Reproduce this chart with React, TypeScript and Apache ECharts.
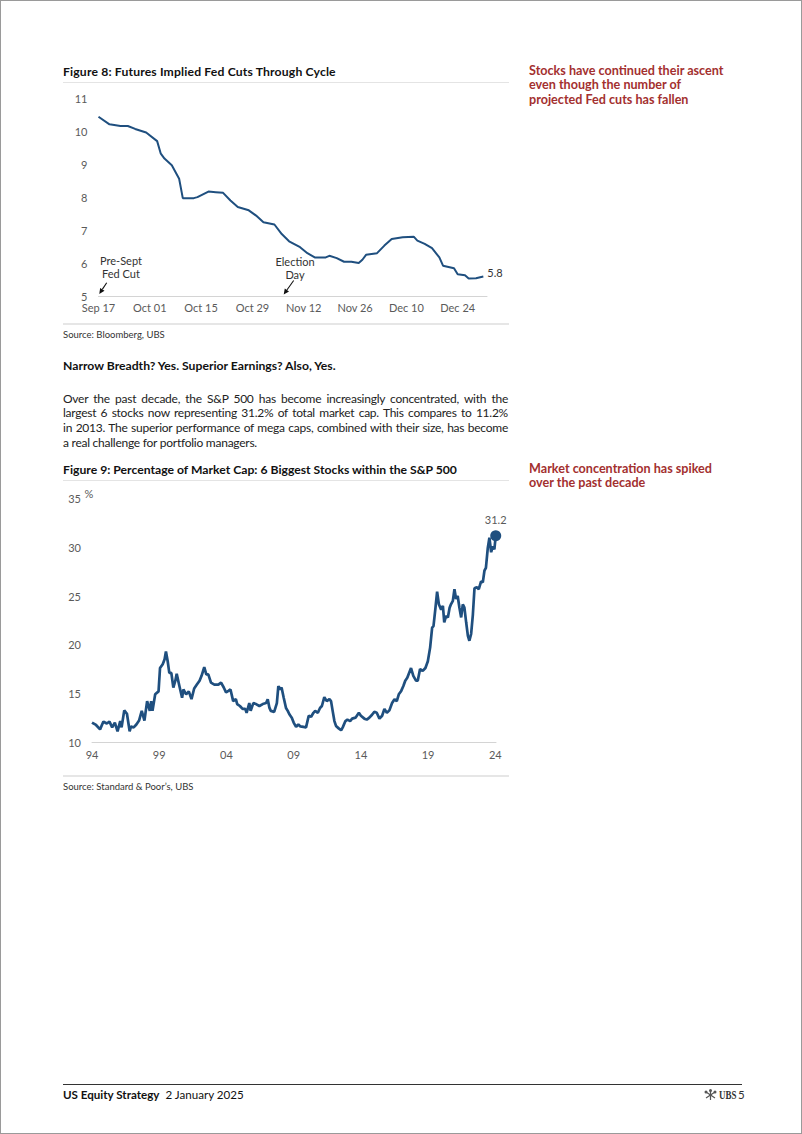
import React, { useEffect, useRef } from "react";
import * as echarts from "echarts";

const FONT = "Lato, 'Noto Sans', sans-serif";
const BLUE = "#1f4f7f";
const RED = "#a3302f";
const AXIS_TEXT = "#5a5a5a";

// ---------- Figure 8 data ----------
const fedStart = "2024-09-17";
const fedDates = [
  "2024-09-17", "2024-09-20", "2024-09-23", "2024-09-25", "2024-09-27", "2024-09-30",
  "2024-10-03", "2024-10-04", "2024-10-05", "2024-10-07", "2024-10-09", "2024-10-10",
  "2024-10-13", "2024-10-14", "2024-10-17", "2024-10-19", "2024-10-21", "2024-10-23",
  "2024-10-25", "2024-10-28", "2024-10-30", "2024-11-01", "2024-11-04", "2024-11-06",
  "2024-11-08", "2024-11-11", "2024-11-13", "2024-11-15", "2024-11-18", "2024-11-19",
  "2024-11-21", "2024-11-23", "2024-11-25", "2024-11-27", "2024-11-28", "2024-11-29",
  "2024-12-02", "2024-12-04", "2024-12-06", "2024-12-09", "2024-12-12", "2024-12-13",
  "2024-12-15", "2024-12-17", "2024-12-19", "2024-12-20", "2024-12-23", "2024-12-24",
  "2024-12-26", "2024-12-27", "2024-12-29", "2024-12-31",
];
const fedCuts = [
  10.44, 10.21, 10.16, 10.16, 10.07, 9.96,
  9.7, 9.32, 9.17, 8.97, 8.56, 7.97,
  7.97, 8.0, 8.17, 8.15, 8.13, 7.9,
  7.7, 7.6, 7.44, 7.24, 7.17, 6.88,
  6.66, 6.48, 6.3, 6.17, 6.17, 6.22,
  6.15, 6.04, 6.04, 6.0, 6.1, 6.25,
  6.3, 6.53, 6.73, 6.78, 6.8, 6.68,
  6.58, 6.45, 6.17, 5.92, 5.84, 5.66,
  5.63, 5.53, 5.54, 5.59,
];
const fedEndLabel = "5.8";
const fedTickLabels = ["Sep 17", "Oct 01", "Oct 15", "Oct 29", "Nov 12", "Nov 26", "Dec 10", "Dec 24"];
const fedAxisEnd = "2025-01-01";

// ---------- Figure 9 data ----------
const mcYears = [
  1994.0, 1994.3, 1994.6, 1994.85, 1995.1, 1995.3, 1995.5, 1995.7, 1995.9, 1996.1,
  1996.2, 1996.4, 1996.6, 1996.8, 1996.9, 1997.1, 1997.3, 1997.5, 1997.7, 1997.9,
  1998.1, 1998.3, 1998.4, 1998.5, 1998.7, 1998.95, 1999.06, 1999.26, 1999.4, 1999.5,
  1999.63, 1999.75, 1999.9, 2000.05, 2000.2, 2000.3, 2000.5, 2000.7, 2000.8, 2001.0,
  2001.2, 2001.4, 2001.6, 2001.8, 2002.0, 2002.15, 2002.35, 2002.5, 2002.65, 2002.85,
  2003.1, 2003.4, 2003.6, 2003.8, 2003.97, 2004.15, 2004.3, 2004.5, 2004.7, 2004.8,
  2005.0, 2005.2, 2005.4, 2005.5, 2005.7, 2005.8, 2006.0, 2006.2, 2006.45, 2006.7,
  2006.95, 2007.07, 2007.2, 2007.3, 2007.55, 2007.75, 2007.86, 2008.0, 2008.1, 2008.26,
  2008.43, 2008.56, 2008.68, 2008.86, 2009.0, 2009.18, 2009.35, 2009.5, 2009.72, 2009.92,
  2010.12, 2010.3, 2010.47, 2010.6, 2010.8, 2010.96, 2011.1, 2011.28, 2011.46, 2011.66,
  2011.78, 2011.9, 2012.03, 2012.15, 2012.35, 2012.53, 2012.65, 2012.85, 2013.0, 2013.2,
  2013.35, 2013.6, 2013.85, 2014.0, 2014.26, 2014.44, 2014.63, 2014.83, 2015.0, 2015.18,
  2015.38, 2015.58, 2015.75, 2015.93, 2016.12, 2016.32, 2016.5, 2016.67, 2016.82, 2017.0,
  2017.16, 2017.3, 2017.45, 2017.73, 2017.9, 2018.1, 2018.23, 2018.4, 2018.6, 2018.8,
  2018.98, 2019.15, 2019.3, 2019.4, 2019.55, 2019.67, 2019.8, 2019.97, 2020.1, 2020.2,
  2020.34, 2020.47, 2020.6, 2020.7, 2020.84, 2020.96, 2021.08, 2021.2, 2021.33, 2021.46,
  2021.58, 2021.7, 2021.83, 2021.96, 2022.07, 2022.2, 2022.33, 2022.45, 2022.62, 2022.77,
  2022.94, 2023.07, 2023.19, 2023.3, 2023.44, 2023.56, 2023.69, 2023.8, 2023.93, 2024.03,
];
const mcShare = [
  12.0, 11.75, 11.3, 12.1, 11.9, 12.1, 11.5, 12.0, 11.1, 12.15,
  11.5, 13.25, 12.9, 11.1, 11.6, 11.5, 11.8, 12.2, 13.2, 12.2,
  14.2, 13.2, 14.2, 13.2, 14.9, 15.2, 17.6, 18.0, 18.5, 19.3,
  18.3, 17.1, 17.1, 15.6, 16.3, 17.0, 15.75, 14.55, 15.4, 14.9,
  15.2, 14.4, 15.5, 15.9, 16.3, 16.8, 17.7, 16.95, 16.95, 16.1,
  15.9, 15.9, 16.1, 15.6, 15.1, 15.25, 15.4, 14.2, 14.4, 13.9,
  13.7, 13.4, 13.4, 13.0, 14.0, 13.2, 14.0, 13.9, 13.7, 13.9,
  14.0, 14.4, 13.5, 13.2, 13.1, 14.0, 15.75, 15.4, 15.6, 14.55,
  13.5, 13.2, 12.85, 12.5, 12.0, 11.55, 11.8, 11.6, 11.55, 11.5,
  12.7, 12.6, 13.0, 13.2, 13.0, 13.5, 13.7, 14.6, 14.2, 14.4,
  14.2, 13.2, 12.15, 11.65, 11.4, 11.2, 11.5, 12.15, 12.3, 12.15,
  12.4, 12.5, 13.0, 12.7, 12.4, 12.3, 12.5, 12.8, 13.1, 13.0,
  12.4, 12.7, 13.4, 13.0, 13.25, 14.0, 14.4, 14.2, 14.9, 15.25,
  15.75, 16.3, 16.6, 17.6, 16.8, 16.3, 16.3, 17.5, 17.3, 17.6,
  18.3, 19.7, 21.75, 21.9, 23.8, 25.45, 24.15, 23.6, 24.0, 22.3,
  22.95, 22.8, 23.8, 24.15, 24.5, 25.7, 24.7, 25.0, 23.8, 22.8,
  24.15, 23.8, 22.3, 20.9, 20.4, 21.1, 23.1, 25.8, 25.9, 25.7,
  26.5, 26.4, 27.6, 27.9, 29.95, 31.0, 29.5, 30.1, 29.8, 31.2,
];
const mcBaseYear = 1994;
const mcTickLabels = ["94", "99", "04", "09", "14", "19", "24"];

const DAY = 86400000;
const dayOffset = (d: string) => Math.round((Date.parse(d) - Date.parse(fedStart)) / DAY);

function arrow(x1: number, y1: number, x2: number, y2: number) {
  const dx = x2 - x1;
  const dy = y2 - y1;
  const len = Math.sqrt(dx * dx + dy * dy);
  const ux = dx / len;
  const uy = dy / len;
  const head = 5.5;
  const half = 2.6;
  const bx = x2 - ux * head;
  const by = y2 - uy * head;
  return [
    { type: "line", silent: true, shape: { x1, y1, x2: bx, y2: by }, style: { stroke: "#111", lineWidth: 1.1 } },
    {
      type: "polygon",
      silent: true,
      shape: { points: [[x2, y2], [bx - uy * half, by + ux * half], [bx + uy * half, by - ux * half]] },
      style: { fill: "#111" },
    },
  ];
}

function FedChart() {
  const ref = useRef<HTMLDivElement>(null);
  useEffect(() => {
    if (!ref.current) return;
    const chart = echarts.init(ref.current, undefined, { renderer: "svg" });
    const data = fedDates.map((d, i) => [dayOffset(d), fedCuts[i]]);
    const annoText = (text: string, x: number, y: number) => ({
      type: "text",
      silent: true,
      x,
      y,
      style: { text, align: "center", verticalAlign: "top", fontSize: 11, lineHeight: 13, fill: "#333", fontFamily: FONT },
    });
    chart.setOption({
      animation: false,
      grid: { left: 37.5, right: 24, top: 13.3, bottom: 24 },
      xAxis: {
        type: "value",
        min: 0,
        max: dayOffset(fedAxisEnd),
        interval: 14,
        axisLine: { show: true, lineStyle: { color: "#d4d4d4", width: 1 } },
        axisTick: { show: false },
        splitLine: { show: false },
        axisLabel: {
          color: AXIS_TEXT,
          fontSize: 11,
          fontFamily: FONT,
          margin: 6,
          showMaxLabel: false,
          formatter: (v: number) => (v % 14 === 0 ? fedTickLabels[v / 14] ?? "" : ""),
        },
      },
      yAxis: {
        type: "value",
        min: 5,
        max: 11,
        interval: 1,
        axisLine: { show: false },
        axisTick: { show: false },
        splitLine: { show: false },
        axisLabel: { color: AXIS_TEXT, fontSize: 11, fontFamily: FONT, margin: 11 },
      },
      series: [
        {
          type: "line",
          data,
          symbol: "none",
          showSymbol: false,
          lineStyle: { color: BLUE, width: 2 },
          endLabel: {
            show: true,
            formatter: () => fedEndLabel,
            color: "#333",
            fontSize: 11,
            fontFamily: FONT,
            distance: 4,
            offset: [0, -4],
          },
        },
      ],
      graphic: [
        annoText("Pre-Sept\nFed Cut", 60, 168.5),
        ...arrow(45.7, 197.7, 38.3, 209),
        annoText("Election\nDay", 234, 169.5),
        ...arrow(232.7, 195.5, 222.7, 209.5),
      ],
    });
    return () => chart.dispose();
  }, []);
  return <div ref={ref} style={{ position: "absolute", left: 60, top: 84, width: 450, height: 235 }} />;
}

function ConcentrationChart() {
  const ref = useRef<HTMLDivElement>(null);
  useEffect(() => {
    if (!ref.current) return;
    const chart = echarts.init(ref.current, undefined, { renderer: "svg" });
    const data = mcYears.map((y, i) => [y - mcBaseYear, mcShare[i]]);
    const last = data[data.length - 1];
    chart.setOption({
      animation: false,
      grid: { left: 31, right: 15, top: 12.7, bottom: 29 },
      xAxis: {
        type: "value",
        min: 0,
        max: 30.05,
        interval: 5,
        axisLine: { show: true, lineStyle: { color: "#d4d4d4", width: 1 } },
        axisTick: { show: false },
        splitLine: { show: false },
        axisLabel: {
          color: AXIS_TEXT,
          fontSize: 11,
          fontFamily: FONT,
          margin: 7,
          showMaxLabel: false,
          formatter: (v: number) => (Math.abs(v % 5) < 1e-9 ? mcTickLabels[Math.round(v / 5)] ?? "" : ""),
        },
      },
      yAxis: {
        type: "value",
        min: 10,
        max: 35,
        interval: 5,
        axisLine: { show: false },
        axisTick: { show: false },
        splitLine: { show: false },
        axisLabel: { color: AXIS_TEXT, fontSize: 11, fontFamily: FONT, margin: 11 },
      },
      series: [
        {
          type: "line",
          data,
          symbol: "none",
          showSymbol: false,
          lineStyle: { color: BLUE, width: 2.7 },
          markPoint: {
            symbol: "circle",
            symbolSize: 11,
            itemStyle: { color: BLUE },
            label: {
              show: true,
              position: "top",
              distance: 5,
              color: AXIS_TEXT,
              fontSize: 11,
              fontFamily: FONT,
              formatter: (p: any) => Number(p.value).toFixed(1),
            },
            data: [{ coord: last, value: last[1] }],
          },
        },
      ],
      graphic: [
        {
          type: "text",
          silent: true,
          x: 23.5,
          y: 2,
          style: { text: "%", fontSize: 11, fill: AXIS_TEXT, fontFamily: FONT },
        },
      ],
    });
    return () => chart.dispose();
  }, []);
  return <div ref={ref} style={{ position: "absolute", left: 60, top: 485, width: 450, height: 285 }} />;
}

const abs = (left: number, top: number, extra: React.CSSProperties = {}): React.CSSProperties => ({
  position: "absolute",
  left,
  top,
  whiteSpace: "nowrap",
  fontFamily: FONT,
  ...extra,
});

const rule = (top: number, color = "#e4e4e4", h = 1.5, left = 62, width = 446): React.CSSProperties => ({
  position: "absolute",
  left,
  top,
  width,
  height: h,
  background: color,
});

const paragraphLines = [
  "Over the past decade, the S&P 500 has become increasingly concentrated, with the",
  "largest 6 stocks now representing 31.2% of total market cap. This compares to 11.2%",
  "in 2013. The superior performance of mega caps, combined with their size, has become",
  "a real challenge for portfolio managers.",
];

function UbsLogo() {
  return (
    <svg width="13" height="12" viewBox="0 0 13 12" style={{ position: "absolute", left: 0, top: 1 }}>
      <g stroke="#555" strokeWidth="1.2" fill="none">
        <line x1="6.5" y1="1" x2="6.5" y2="11" />
        <line x1="2" y1="3" x2="11" y2="9" />
        <line x1="11" y1="3" x2="2" y2="9" />
      </g>
      <g fill="#555">
        <circle cx="6.5" cy="1.6" r="1.5" />
        <circle cx="2" cy="3" r="1.5" />
        <circle cx="11" cy="3" r="1.5" />
        <circle cx="6.5" cy="6" r="1.2" />
      </g>
    </svg>
  );
}

export default function App() {
  const titleStyle: React.CSSProperties = { fontSize: 12.2, fontWeight: 700, color: "#111", lineHeight: "15px" };
  const sideStyle: React.CSSProperties = { fontSize: 12.6, fontWeight: 700, color: RED, lineHeight: "14.5px" };
  const srcStyle: React.CSSProperties = { fontSize: 9.5, color: "#333", lineHeight: "12px" };
  return (
    <div
      style={{
        position: "absolute",
        left: 0,
        top: 0,
        width: 802,
        height: 1134,
        background: "#fff",
        border: "1px solid #9a9a9a",
        boxSizing: "border-box",
        overflow: "hidden",
        fontFamily: FONT,
      }}
    >
      <div style={abs(62, 62.5, { ...titleStyle, letterSpacing: "0.15px" })}>
        Figure 8: Futures Implied Fed Cuts Through Cycle
      </div>
      <div style={rule(80.5)} />
      <FedChart />
      <div style={rule(321.5, "#e6e6e6", 2)} />
      <div style={abs(62, 328, srcStyle)}>Source: Bloomberg, UBS</div>

      <div style={abs(528, 62.5, sideStyle)}>
        Stocks have continued their ascent
        <br />
        even though the number of
        <br />
        projected Fed cuts has fallen
      </div>

      <div style={abs(62, 357, { fontSize: 12.2, fontWeight: 700, color: "#111", lineHeight: "16px" })}>
        Narrow Breadth? Yes. Superior Earnings? Also, Yes.
      </div>

      <div
        style={{
          position: "absolute",
          left: 62,
          top: 390.7,
          width: 445,
          fontFamily: FONT,
          fontSize: 12,
          letterSpacing: "-0.25px",
          color: "#222",
        }}
      >
        {paragraphLines.map((line, i) => (
          <div
            key={i}
            style={{
              lineHeight: "14.67px",
              whiteSpace: "nowrap",
              textAlign: i < paragraphLines.length - 1 ? "justify" : "left",
              textAlignLast: i < paragraphLines.length - 1 ? "justify" : "left",
            }}
          >
            {line}
          </div>
        ))}
      </div>

      <div style={abs(62, 460.5, titleStyle)}>Figure 9: Percentage of Market Cap: 6 Biggest Stocks within the S&amp;P 500</div>
      <div style={rule(478.5)} />
      <ConcentrationChart />
      <div style={rule(773.5, "#e6e6e6", 2)} />
      <div style={abs(62, 780, srcStyle)}>Source: Standard &amp; Poor’s, UBS</div>

      <div style={abs(528, 460.75, sideStyle)}>
        Market concentration has spiked
        <br />
        over the past decade
      </div>

      <div style={rule(1082.5, "#333", 1, 62, 679)} />
      <div style={abs(62, 1087, { fontSize: 11.6, color: "#111", lineHeight: "14px" })}>
        <span style={{ fontWeight: 700 }}>US Equity Strategy</span>
        <span style={{ marginLeft: 6 }}>2 January 2025</span>
      </div>
      <div style={{ position: "absolute", left: 703, top: 1087, width: 40, height: 14 }}>
        <UbsLogo />
        <span
          style={{
            position: "absolute",
            left: 15,
            top: 0,
            fontFamily: "'Liberation Serif', serif",
            fontSize: 11.5,
            fontWeight: 700,
            color: "#333",
            lineHeight: "14px",
            transform: "scaleX(0.78)",
            transformOrigin: "left center",
            whiteSpace: "nowrap",
          }}
        >
          UBS
        </span>
        <span
          style={{
            position: "absolute",
            left: 34,
            top: 0,
            fontFamily: FONT,
            fontSize: 11.5,
            color: "#333",
            lineHeight: "14px",
          }}
        >
          5
        </span>
      </div>
    </div>
  );
}
